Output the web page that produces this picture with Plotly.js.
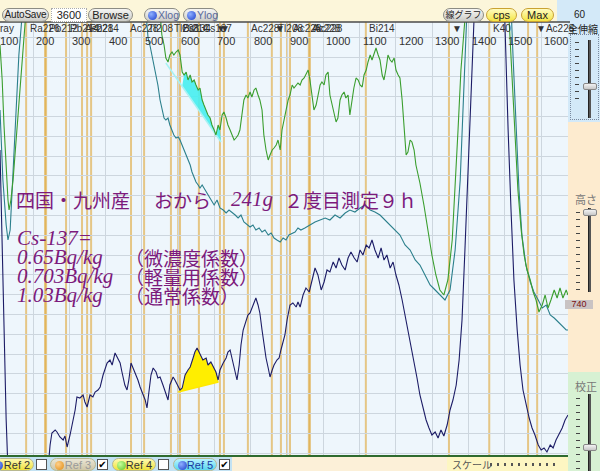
<!DOCTYPE html>
<html>
<head>
<meta charset="utf-8">
<script src="https://cdn.plot.ly/plotly-3.0.1.min.js"></script>
<style>
  html,body{margin:0;padding:0;background:#fff;}
  #app{position:relative;width:600px;height:471px;overflow:hidden;font-family:"Liberation Sans","DejaVu Sans",sans-serif;}
  .bg{position:absolute;z-index:0;}
  #chart{position:absolute;left:0;top:0;width:600px;height:471px;z-index:1;}
  .ui{position:absolute;z-index:2;box-sizing:border-box;white-space:nowrap;}
  .btn{top:8px;height:14px;border:1px solid #8c8c84;border-radius:7px;background:linear-gradient(#f6f6f4,#cdcdc8);font-size:11px;line-height:12px;text-align:center;color:#222;}
  .ybtn{background:linear-gradient(#fffcc0,#f5e646);border-color:#c9a232;}
  .dot{position:absolute;width:9px;height:9px;border-radius:50%;top:2px;}
  .pill{top:458px;height:13px;border-radius:7px;font-size:11px;line-height:13px;border:1px solid #b8b890;text-align:center;}
  .cb{top:459px;width:11px;height:11px;background:#fff;border:1px solid #555;font-size:10px;line-height:9px;text-align:center;color:#000;font-weight:bold;}
  .jp{font-family:"Noto Sans CJK JP",sans-serif;}
  .ticks{width:4px;background:repeating-linear-gradient(#444 0 1px,transparent 1px 7px);}
  .track{width:3px;background:#555;border-left:1px solid #222;}
  .thumb{width:14px;height:7px;background:linear-gradient(#f2f2f2,#c8c8c8);border:1px solid #888;border-radius:2px;}
</style>
</head>
<body>
<div id="app">
  <!-- window chrome backgrounds -->
  <div class="bg" style="left:0;top:0;width:557px;height:22px;background:#fcf6da"></div>
  <div class="bg" style="left:557px;top:0;width:43px;height:122px;background:#d3e9f8"></div>
  <div class="bg" style="left:568px;top:122px;width:32px;height:250px;background:#fdebcf"></div>
  <div class="bg" style="left:568px;top:372px;width:32px;height:99px;background:#d7f1d3"></div>
  <div class="bg" style="left:0;top:456px;width:232px;height:15px;background:#c3e2f3"></div>
  <div class="bg" style="left:232px;top:456px;width:215px;height:15px;background:#fcf0d8"></div>
  <div class="bg" style="left:447px;top:456px;width:121px;height:15px;background:#fdf6c2"></div>

  <div id="chart"></div>

  <!-- toolbar -->
  <div class="ui btn" style="left:2px;width:47px;font-size:10px;letter-spacing:-0.2px;">AutoSave</div>
  <div class="ui" style="left:51px;top:8px;width:36px;height:14px;background:#fff;border:1px dotted #aaa;font-size:11px;line-height:12px;text-align:center;color:#222;">3600</div>
  <div class="ui btn" style="left:88px;width:45px;">Browse</div>
  <div class="ui btn" style="left:144px;width:36px;color:#5b6a9c;text-align:left;padding-left:13px;font-size:10.5px;"><span class="dot" style="left:3px;background:radial-gradient(circle at 35% 35%,#8fb0ff,#1a3ccc);"></span>Xlog</div>
  <div class="ui btn" style="left:183px;width:35px;color:#5b6a9c;text-align:left;padding-left:13px;font-size:10.5px;"><span class="dot" style="left:3px;background:radial-gradient(circle at 35% 35%,#8fb0ff,#1a3ccc);"></span>Ylog</div>
  <div class="ui btn jp" style="left:443px;width:41px;font-size:9px;">線グラフ</div>
  <div class="ui btn ybtn" style="left:486px;width:31px;">cps</div>
  <div class="ui btn ybtn" style="left:521px;width:33px;">Max</div>

  <!-- right-hand sliders -->
  <div class="ui" style="left:574px;top:9px;font-size:10px;color:#222;">60</div>
  <div class="ui jp" style="left:568px;top:21px;font-size:10px;color:#222;">全伸縮</div>
  <div class="ui" style="left:570px;top:34px;width:29px;height:86px;border:1px dotted #7a8aa0;"></div>
  <div class="ui ticks" style="left:575px;top:42px;height:62px;"></div>
  <div class="ui track" style="left:588px;top:40px;height:78px;"></div>
  <div class="ui thumb" style="left:583px;top:83px;"></div>
  <div class="ui jp" style="left:575px;top:191px;font-size:11px;color:#777;">高さ</div>
  <div class="ui ticks" style="left:576px;top:212px;height:78px;"></div>
  <div class="ui track" style="left:588px;top:208px;height:84px;"></div>
  <div class="ui thumb" style="left:583px;top:209px;"></div>
  <div class="ui" style="left:565px;top:300px;width:28px;height:9px;background:#c9c3c3;font-size:9px;line-height:9px;text-align:center;color:#7a1111;">740</div>
  <div class="ui jp" style="left:575px;top:378px;font-size:11px;color:#777;">校正</div>
  <div class="ui ticks" style="left:576px;top:398px;height:73px;"></div>
  <div class="ui track" style="left:588px;top:394px;height:77px;"></div>
  <div class="ui thumb" style="left:583px;top:444px;"></div>

  <!-- reference buttons -->
  <div class="ui pill" style="left:-6px;width:40px;background:linear-gradient(#fffab0,#efe23c);color:#333;padding-left:6px;"><span class="dot" style="left:-1px;background:radial-gradient(circle at 35% 35%,#8fb0ff,#1a3ccc);"></span>Ref 2</div>
  <div class="ui cb" style="left:36px;"></div>
  <div class="ui pill" style="left:50px;width:46px;background:linear-gradient(#eae6d6,#cfc6a6);color:#9a9a9a;padding-left:10px;"><span class="dot" style="left:4px;background:radial-gradient(circle at 35% 35%,#ffd08a,#e08a10);"></span>Ref 3</div>
  <div class="ui cb" style="left:97px;">✔</div>
  <div class="ui pill" style="left:112px;width:44px;background:linear-gradient(#fffab0,#efe23c);color:#333;padding-left:10px;"><span class="dot" style="left:4px;background:radial-gradient(circle at 35% 35%,#c8ff9a,#5cc22a);"></span>Ref 4</div>
  <div class="ui cb" style="left:158px;"></div>
  <div class="ui pill" style="left:173px;width:44px;background:linear-gradient(#b8f4ff,#5ad6ee);color:#1b3aa0;padding-left:10px;"><span class="dot" style="left:4px;background:radial-gradient(circle at 35% 35%,#8fb0ff,#1a3ccc);"></span>Ref 5</div>
  <div class="ui cb" style="left:219px;">✔</div>
  <div class="ui jp" style="left:452px;top:457px;font-size:10px;color:#555;">スケール</div>
  <div class="ui" style="left:490px;top:463px;width:68px;height:3px;background:repeating-linear-gradient(90deg,#555 0 2px,transparent 2px 7px);"></div>
</div>

<script>
// ---- axis set-up (channel = keV) ----
const xRange = [109, 1674];
const yRange = [-2, 431];
const tickCh = [100, 200, 300, 400, 500, 600, 700, 800, 900, 1000, 1100, 1200, 1300, 1400, 1500, 1600];
const tickText = ['100', '200', '300', '400', '500', '600', '700', '800', '900', '1000', '1100', '1200', '1300', '1400', '1500', '1600'];

// ---- nuclide marker lines and their names ----
const markerKeV = [181, 233, 236, 291, 335, 349, 360, 470, 506, 580, 600, 605, 657, 715, 726, 792, 858, 883, 900, 908, 960, 963, 1117, 1346, 1457, 1564, 1589];
const labelKeV = [76, 186, 239, 295, 338, 352, 463, 511, 583, 605, 609, 662, 700, 710, 794, 860, 870, 911, 964, 969, 1120, 1350, 1461, 1580];
const labelText = ['X-ray', 'Ra226', 'Pb212', 'Pb214', 'Ac228', 'Pb214', 'Ac228', 'Tl208', 'Tl208', 'Cs134', 'Bi214', 'Cs137', '▼', '▼', 'Ac228', '▼', 'Tl208', 'Ac228', 'Ac228', 'Ac228', 'Bi214', '▼', 'K40', '▼Ac228'];

// ---- spectrum: sample (navy) ----
const navyCh = [
  109,115,120,126,131,192,241,247,252,261,
  266,274,283,288,294,302,307,316,321,329,
  338,343,349,357,365,371,379,385,393,398,
  404,412,418,426,431,440,445,453,459,464,
  470,476,481,489,495,503,509,514,520,525,
  531,539,544,550,558,564,572,577,586,591,
  600,605,611,619,627,633,641,646,652,657,
  663,668,677,682,690,696,704,710,715,724,
  732,737,743,748,757,762,768,773,779,787,
  792,798,803,809,814,820,825,831,836,842,
  848,853,859,864,872,878,883,889,894,900,
  903,908,916,925,930,936,944,952,961,969,
  977,985,994,1002,1010,1018,1027,1035,1043,1051,
  1060,1068,1076,1085,1093,1101,1109,1118,1126,1134,
  1142,1151,1159,1167,1175,1184,1192,1200,1208,1217,
  1225,1233,1242,1250,1258,1266,1275,1283,1291,1299,
  1308,1316,1324,1332,1341,1349,1357,1366,1374,1382,
  1390,1399,1407,1415,1423,1459,1495,1501,1509,1517,
  1525,1534,1542,1550,1558,1567,1575,1583,1592,1600,
  1608,1616,1625,1633,1641,1649,1658,1666,1674
];
const navyV = [
  303,203,113,33,-17,-17,-17,8,20,23,
  21,16,13,17,6,18,26,43,56,55,
  58,51,46,58,56,61,63,66,78,83,
  90,93,88,100,96,90,81,68,63,73,
  90,85,81,73,66,58,53,45,63,78,
  85,81,75,76,68,61,53,68,76,73,
  66,63,65,78,83,86,95,101,105,101,
  97,93,95,88,91,86,81,73,83,90,
  95,101,103,95,81,73,88,108,123,131,
  138,140,145,150,155,148,140,123,108,95,
  85,76,83,88,93,95,103,110,118,133,
  140,148,150,146,151,146,158,165,161,173,
  185,178,163,171,183,181,191,185,195,188,
  183,195,201,195,191,203,198,208,205,213,
  203,195,205,193,198,185,191,178,168,153,
  138,123,108,93,75,58,43,33,25,18,
  21,15,23,17,28,43,53,68,93,133,
  203,293,373,433,493,753,493,413,323,243,
  173,123,88,63,48,35,25,18,8,3,
  5,1,8,5,13,18,25,33,38
];

// ---- spectrum: reference 4 (green) ----
const greenCh = [
  109,115,120,126,131,134,139,145,153,161,
  170,178,183,219,274,385,495,542,550,555,
  561,566,572,577,583,588,594,600,605,611,
  616,622,627,633,638,644,649,655,660,666,
  671,677,682,688,693,699,704,710,715,721,
  726,732,737,743,748,754,759,765,770,776,
  781,787,792,798,803,809,814,820,825,831,
  836,842,848,853,859,864,870,875,881,886,
  892,897,903,908,914,919,925,930,936,941,
  947,952,958,963,969,974,980,985,991,996,
  1002,1007,1013,1018,1024,1029,1035,1040,1046,1051,
  1057,1062,1068,1073,1079,1084,1090,1096,1101,1107,
  1112,1118,1123,1129,1134,1140,1145,1151,1156,1162,
  1167,1173,1178,1184,1189,1195,1200,1206,1211,1217,
  1222,1228,1233,1239,1244,1250,1255,1261,1266,1277,
  1288,1299,1310,1321,1332,1343,1355,1363,1371,1379,
  1388,1393,1459,1506,1512,1520,1528,1536,1545,1553,
  1561,1570,1578,1586,1594,1603,1611,1619,1627,1636,
  1644,1652,1660,1669,1674
];
const greenV = [
  408,373,328,283,253,243,253,273,313,353,
  393,428,453,553,603,603,553,473,438,418,
  408,395,391,398,401,398,401,403,398,381,
  378,381,373,378,371,373,368,363,365,353,
  348,343,338,335,328,323,318,328,323,338,
  341,335,328,323,318,313,315,318,323,338,
  353,358,355,361,356,363,365,358,353,343,
  318,303,293,298,303,305,308,313,303,323,
  335,345,353,358,368,365,368,370,368,373,
  375,378,383,373,353,343,348,358,368,371,
  368,378,381,358,348,338,331,335,353,358,
  361,355,358,338,353,365,375,373,368,366,
  378,383,391,398,393,401,405,398,393,378,
  373,385,398,393,391,395,383,378,375,353,
  323,298,301,313,311,303,288,278,270,248,
  223,198,178,163,158,173,213,263,323,383,
  433,473,753,473,433,373,313,263,223,198,
  183,173,161,153,141,148,158,145,153,163,
  155,165,155,163,158
];

// ---- spectrum: reference 5 (teal) ----
const tealCh = [
  109,117,126,131,137,145,153,161,170,175,
  274,467,506,511,517,522,528,533,539,544,
  550,555,561,566,572,577,583,588,594,600,
  605,611,616,622,627,633,638,644,649,655,
  660,666,674,682,690,699,707,715,724,732,
  740,748,757,765,773,781,790,798,806,814,
  823,831,839,848,856,864,872,881,889,897,
  905,914,922,930,938,949,963,977,991,1005,
  1018,1032,1046,1060,1073,1087,1101,1115,1129,1142,
  1156,1170,1184,1197,1211,1225,1239,1253,1266,1280,
  1294,1308,1321,1335,1349,1363,1377,1385,1393,1399,
  1459,1514,1523,1531,1539,1547,1558,1570,1580,1592,
  1603,1614,1625,1636,1647,1658,1669,1674
];
const tealV = [
  343,273,228,213,223,283,343,398,438,473,
  603,523,463,438,415,408,398,388,378,368,
  353,343,335,333,335,328,323,318,315,316,
  313,308,303,298,293,288,281,275,271,268,
  265,268,263,258,253,248,253,245,243,240,
  243,241,238,235,238,231,228,226,228,223,
  225,221,223,218,220,215,213,211,215,213,
  218,220,221,225,223,225,228,231,233,235,
  233,238,235,240,243,241,245,248,243,241,
  238,233,228,223,218,208,203,193,188,178,
  168,163,158,153,163,203,273,353,423,473,
  753,473,393,323,263,218,188,171,161,153,
  145,148,138,135,131,127,123,123
];

// ---- peak-area baselines (Cs-137 region) ----
const csGreenBaseCh = [566, 718];
const csGreenBaseV = [390, 311];
const csGreenFillCh = [611, 718];
const csGreenFillV = [367, 311];
const csNavyBaseCh = [600, 711];
const csNavyBaseV = [61, 71];

// ---- overlay note ----
const noteLatin = ['241g', 'Cs-137=', '0.65Bq/kg', '0.703Bq/kg', '1.03Bq/kg'];
const noteJp = ['四国・九州産', 'おから', '２度目測定９ｈ', '（微濃度係数）', '（軽量用係数）', '（通常係数）'];

// pixel helpers for the plot frame (600x471 window, plot 568x433 at top 22)
const PW = 568, PT = 22, PH = 433;
const xp = px => px / PW;
const yp = py => (PT + PH - py) / PH;
const chToPaper = ch => (ch - xRange[0]) / (xRange[1] - xRange[0]);

// a closed peak area: baseline start -> spectrum points -> baseline end
function peakArea(ch, v, baseCh, baseV) {
  const xs = [baseCh[0]], ys = [baseV[0]];
  for (let i = 0; i < ch.length; i++) {
    if (ch[i] > baseCh[0] && ch[i] < baseCh[1]) { xs.push(ch[i]); ys.push(v[i]); }
  }
  xs.push(baseCh[1]); ys.push(baseV[1]);
  return { xs, ys };
}
const cyanArea = peakArea(greenCh, greenV, csGreenFillCh, csGreenFillV);
const yellowArea = peakArea(navyCh, navyV, csNavyBaseCh, csNavyBaseV);

const traces = [
  { x: cyanArea.xs, y: cyanArea.ys, mode: 'lines', fill: 'toself', fillcolor: 'rgba(70,238,240,0.9)', line: { width: 0 }, hoverinfo: 'skip' },
  { x: csGreenBaseCh, y: csGreenBaseV, mode: 'lines', line: { color: '#a6f2f4', width: 1.5 }, hoverinfo: 'skip' },
  { x: yellowArea.xs, y: yellowArea.ys, mode: 'lines', fill: 'toself', fillcolor: '#ffee00', line: { width: 0 }, hoverinfo: 'skip' },
  { x: csNavyBaseCh, y: csNavyBaseV, mode: 'lines', line: { color: '#ffe800', width: 1.5 }, hoverinfo: 'skip' },
  { x: tealCh, y: tealV, mode: 'lines', line: { color: '#2b7f8c', width: 1.1 }, name: 'Ref 5' },
  { x: greenCh, y: greenV, mode: 'lines', line: { color: '#3a9e2e', width: 1.1 }, name: 'Ref 4' },
  { x: navyCh, y: navyV, mode: 'lines', line: { color: '#1c1c66', width: 1.1 }, name: 'sample' }
];

const shapes = markerKeV.map(k => ({
  type: 'line', xref: 'x', yref: 'paper', x0: k, x1: k, y0: 0, y1: 1,
  line: { color: 'rgba(222,168,60,0.62)', width: 2 }, layer: 'between'
}));
shapes.push({ type: 'line', xref: 'paper', yref: 'paper', x0: 0, x1: xp(570), y0: 1, y1: 1, line: { color: '#4a4a4a', width: 1.5 } });

const annotations = [];
tickCh.forEach((c, i) => annotations.push({
  xref: 'paper', yref: 'paper', x: chToPaper(c), y: yp(41), xanchor: 'left', yanchor: 'middle', xshift: 1,
  text: tickText[i], showarrow: false, font: { family: 'Liberation Sans, DejaVu Sans, sans-serif', size: 11, color: '#333' }
}));
labelKeV.forEach((c, i) => annotations.push({
  xref: 'paper', yref: 'paper', x: chToPaper(c), y: yp(29), xanchor: 'left', yanchor: 'middle',
  text: labelText[i], showarrow: false, font: { family: 'Liberation Sans, DejaVu Sans, sans-serif', size: 10, color: '#333' }
}));

const purple = '#7c1a7c';
function note(text, px, py, latin) {
  annotations.push({
    xref: 'paper', yref: 'paper', x: xp(px), y: yp(py), xanchor: 'left', yanchor: 'middle', showarrow: false,
    text: latin ? '<i>' + text + '</i>' : text,
    font: latin ? { family: 'Liberation Serif, DejaVu Serif, serif', size: 21, color: purple }
                : { family: 'Noto Sans CJK JP, sans-serif', size: 19, color: purple }
  });
}
note(noteJp[0], 14, 199, false);
note(noteJp[1], 152, 199, false);
note(noteLatin[0], 229, 199, true);
note(noteJp[2], 282, 199, false);
note(noteLatin[1], 15, 238, true);
note(noteLatin[2], 15, 257, true);
note(noteJp[3], 123, 257, false);
note(noteLatin[3], 15, 276, true);
note(noteJp[4], 123, 276, false);
note(noteLatin[4], 15, 295, true);
note(noteJp[5], 123, 295, false);

const layout = {
  width: 600, height: 471,
  margin: { l: 0, r: 32, t: 22, b: 16, pad: 0 },
  paper_bgcolor: 'rgba(0,0,0,0)',
  plot_bgcolor: '#eef6fc',
  showlegend: false,
  xaxis: { range: xRange, tick0: 0, dtick: 100, showgrid: true, gridcolor: '#cdd6de', gridwidth: 1,
           showticklabels: false, ticks: '', zeroline: false, showline: true, linecolor: '#2f6b2f', linewidth: 1.5 },
  yaxis: { range: yRange, tick0: 0, dtick: 19.8, showgrid: true, gridcolor: '#cdd6de', gridwidth: 1,
           showticklabels: false, ticks: '', zeroline: false, showline: false },
  shapes: shapes,
  annotations: annotations
};

Plotly.newPlot('chart', traces, layout, { displayModeBar: false, staticPlot: true });
</script>
</body>
</html>
